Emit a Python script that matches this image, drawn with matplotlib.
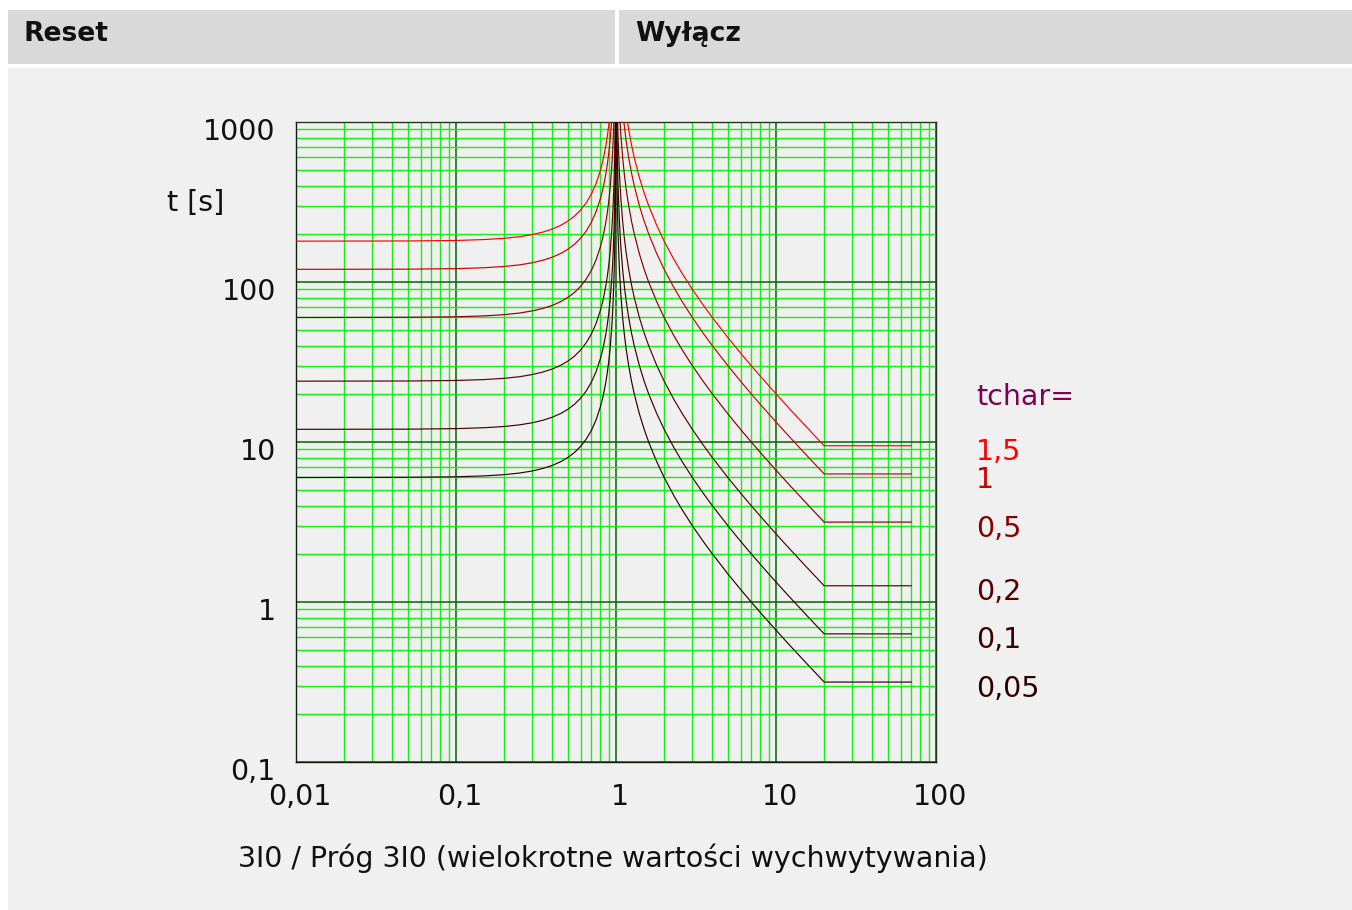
import matplotlib
matplotlib.use('Agg')
import matplotlib.pyplot as plt
from matplotlib.ticker import FixedLocator, LogLocator, NullFormatter, FixedFormatter
from matplotlib.transforms import ScaledTranslation, blended_transform_factory
from matplotlib.patches import Rectangle

# ---------------- data ----------------
tchar_labels = ['1,5', '1', '0,5', '0,2', '0,1', '0,05']
line_colors = ['#ff0000', '#c80000', '#860000', '#560000', '#3e0000', '#2c0000']

# Reset branch (multiples of pickup < 1)
m_reset = [0.01, 0.05, 0.1, 0.15, 0.2, 0.25, 0.3, 0.35, 0.4, 0.45, 0.5, 0.55,
           0.6, 0.65, 0.7, 0.75, 0.8, 0.83, 0.86, 0.88, 0.9, 0.92, 0.94, 0.95,
           0.96, 0.97, 0.975, 0.98, 0.985, 0.99, 0.993, 0.995, 0.997, 0.998, 0.999]
reset_1_5 = [180.0, 180.5, 181.8, 184.2, 187.5, 192.0, 197.8, 205.2, 214.3, 225.7,
             240.0, 258.1, 281.3, 311.7, 352.9, 411.4, 500.0, 578.6, 691.2, 797.9,
             947.4, 1171.9, 1546.4, 1846.2, 2295.9, 3045.7, 3645.6, 4545.5, 6045.3,
             9045.2, 12902, 18045, 30045, 45045, 90045]
reset_1 = [120.0, 120.3, 121.2, 122.8, 125.0, 128.0, 131.9, 136.8, 142.9, 150.5,
           160.0, 172.0, 187.5, 207.8, 235.3, 274.3, 333.3, 385.7, 460.8, 531.9,
           631.6, 781.3, 1030.9, 1230.8, 1530.6, 2030.5, 2430.4, 3030.3, 4030.2,
           6030.2, 8601.5, 12030, 20030, 30030, 60030]
reset_0_5 = [60.0, 60.2, 60.6, 61.4, 62.5, 64.0, 66.0, 68.4, 71.4, 75.3,
             80.0, 86.0, 93.8, 103.9, 117.6, 137.1, 166.7, 192.9, 230.4, 265.9,
             315.8, 390.6, 515.5, 615.4, 765.3, 1015.2, 1215.2, 1515.2, 2015.1,
             3015.1, 4300.8, 6015, 10015, 15015, 30015]
reset_0_2 = [24.0, 24.06, 24.24, 24.56, 25.0, 25.6, 26.4, 27.4, 28.6, 30.1,
             32.0, 34.4, 37.5, 41.6, 47.1, 54.9, 66.7, 77.1, 92.2, 106.4,
             126.3, 156.3, 206.2, 246.2, 306.1, 406.1, 486.1, 606.1, 806.0,
             1206, 1720, 2406, 4006, 6006, 12006]
reset_0_1 = [12.0, 12.03, 12.12, 12.28, 12.5, 12.8, 13.19, 13.68, 14.29, 15.05,
             16.0, 17.2, 18.75, 20.78, 23.53, 27.43, 33.33, 38.57, 46.08, 53.19,
             63.16, 78.13, 103.1, 123.1, 153.1, 203.1, 243.0, 303.0, 403.0,
             603.0, 860.2, 1203, 2003, 3003, 6003]
reset_0_05 = [6.0, 6.02, 6.06, 6.14, 6.25, 6.4, 6.59, 6.84, 7.14, 7.52,
              8.0, 8.6, 9.38, 10.39, 11.76, 13.71, 16.67, 19.29, 23.04, 26.6,
              31.58, 39.06, 51.55, 61.54, 76.53, 101.5, 121.5, 151.5, 201.5,
              301.5, 430.1, 601.5, 1001.5, 1501.5, 3001.5]

# Trip branch (multiples of pickup > 1)
m_trip = [1.002, 1.005, 1.01, 1.02, 1.03, 1.05, 1.07, 1.1, 1.13, 1.16, 1.2, 1.25,
          1.3, 1.4, 1.5, 1.6, 1.8, 2, 2.3, 2.6, 3, 3.5, 4, 5, 6, 7, 8.5, 10,
          12, 15, 20, 70]
trip_1_5 = [90000, 36000, 18000, 9000, 6000, 3600, 2571, 1800, 1385, 1125, 900, 720,
            600, 450, 360, 300, 225, 180, 138.5, 112.5, 90, 72, 60, 45, 36, 30, 24, 20,
            16.36, 12.86, 9.474, 9.474]
trip_1 = [60000, 24000, 12000, 6000, 4000, 2400, 1714, 1200, 923.1, 750, 600, 480,
          400, 300, 240, 200, 150, 120, 92.31, 75, 60, 48, 40, 30, 24, 20, 16, 13.33,
          10.91, 8.571, 6.316, 6.316]
trip_0_5 = [30000, 12000, 6000, 3000, 2000, 1200, 857.1, 600, 461.5, 375, 300, 240,
            200, 150, 120, 100, 75, 60, 46.15, 37.5, 30, 24, 20, 15, 12, 10, 8, 6.667,
            5.455, 4.286, 3.158, 3.158]
trip_0_2 = [12000, 4800, 2400, 1200, 800, 480, 342.9, 240, 184.6, 150, 120, 96,
            80, 60, 48, 40, 30, 24, 18.46, 15, 12, 9.6, 8, 6, 4.8, 4, 3.2, 2.667,
            2.182, 1.714, 1.263, 1.263]
trip_0_1 = [6000, 2400, 1200, 600, 400, 240, 171.4, 120, 92.31, 75, 60, 48,
            40, 30, 24, 20, 15, 12, 9.231, 7.5, 6, 4.8, 4, 3, 2.4, 2, 1.6, 1.333,
            1.091, 0.857, 0.632, 0.632]
trip_0_05 = [3000, 1200, 600, 300, 200, 120, 85.71, 60, 46.15, 37.5, 30, 24,
             20, 15, 12, 10, 7.5, 6, 4.615, 3.75, 3, 2.4, 2, 1.5, 1.2, 1, 0.8, 0.667,
             0.545, 0.429, 0.316, 0.316]

reset_series = [reset_1_5, reset_1, reset_0_5, reset_0_2, reset_0_1, reset_0_05]
trip_series = [trip_1_5, trip_1, trip_0_5, trip_0_2, trip_0_1, trip_0_05]

x_ticks = [0.01, 0.1, 1, 10, 100]
x_tick_labels = ['0,01', '0,1', '1', '10', '100']
y_ticks = [0.1, 1, 10, 100, 1000]
y_tick_labels = ['0,1', '1', '10', '100', '1000']

header_left = 'Reset'
header_right = 'Wyłącz'
x_label = '3I0 / Próg 3I0 (wielokrotne wartości wychwytywania)'
y_label = 't [s]'
legend_title = 'tchar='

FS = 20.5

# ---------------- figure ----------------
W, H = 1352, 910
fig = plt.figure(figsize=(W / 100, H / 100), dpi=100)
fig.patch.set_facecolor('white')


def frect(x0, y0, x1, y1, color):
    r = Rectangle((x0 / W, 1 - y1 / H), (x1 - x0) / W, (y1 - y0) / H,
                  transform=fig.transFigure, facecolor=color, edgecolor='none',
                  zorder=-10)
    fig.add_artist(r)


frect(8, 10, 615, 64, '#d9d9d9')
frect(619, 10, 1352, 64, '#d9d9d9')
frect(8, 68, 1352, 910, '#f0f0f0')

fig.text(24 / W, 1 - 34 / H, header_left, fontsize=19.2, fontweight='bold',
         ha='left', va='center', color='#111111')
fig.text(635 / W, 1 - 34 / H, header_right, fontsize=19.2, fontweight='bold',
         ha='left', va='center', color='#111111')

ax = fig.add_axes([296 / W, (H - 762) / H, 640 / W, 640 / H])
ax.set_facecolor('#f0f0f0')
ax.set_xscale('log')
ax.set_yscale('log')
ax.set_xlim(0.01, 100)
ax.set_ylim(0.1, 1000)

ax.xaxis.set_major_locator(FixedLocator(x_ticks))
ax.xaxis.set_major_formatter(FixedFormatter(x_tick_labels))
ax.yaxis.set_major_locator(FixedLocator(y_ticks))
ax.yaxis.set_major_formatter(FixedFormatter(y_tick_labels))
ax.xaxis.set_minor_locator(LogLocator(base=10, subs=range(2, 10), numticks=20))
ax.yaxis.set_minor_locator(LogLocator(base=10, subs=range(2, 10), numticks=20))
ax.xaxis.set_minor_formatter(NullFormatter())
ax.yaxis.set_minor_formatter(NullFormatter())

ax.grid(which='minor', color='#14f014', linewidth=1.0, zorder=0)
ax.grid(which='major', color='#006400', linewidth=1.1, zorder=0.5)
ax.set_axisbelow(True)

ax.tick_params(which='both', length=0)
ax.tick_params(axis='x', pad=15, labelsize=FS, colors='#111111')
ax.tick_params(axis='y', pad=14.5, labelsize=FS, colors='#111111')

for lab in ax.get_yticklabels():
    lab.set_transform(lab.get_transform() + ScaledTranslation(0, -7 / 100, fig.dpi_scale_trans))
for lab in ax.get_xticklabels():
    lab.set_transform(lab.get_transform() + ScaledTranslation(4 / 100, 0, fig.dpi_scale_trans))

for sp in ax.spines.values():
    sp.set_color('#1f3a1f')
    sp.set_linewidth(1.0)
ax.spines['bottom'].set_color('#0a200a')
ax.spines['left'].set_color('#0a200a')

for rs, ts, col in zip(reset_series, trip_series, line_colors):
    ax.plot(m_reset, rs, color=col, linewidth=0.85, zorder=3)
    ax.plot(m_trip, ts, color=col, linewidth=0.85, zorder=3)

# labels at the right
blend = blended_transform_factory(ax.transAxes, ax.transData)
off = ScaledTranslation(0, -6.5 / 100, fig.dpi_scale_trans)
for ts, lab, col in zip(trip_series, tchar_labels, line_colors):
    ax.text(1.0625, ts[-1], lab, transform=blend + off, ha='left', va='center',
            fontsize=FS, color=col, clip_on=False)
ax.text(1.0625, (762 - 397) / 640, legend_title, transform=ax.transAxes,
        ha='left', va='center', fontsize=FS, color='#800055', clip_on=False)

fig.text(196 / W, 1 - 203 / H, y_label, ha='center', va='center',
         fontsize=FS, color='#111111')
fig.text(613 / W, 1 - 858 / H, x_label, ha='center', va='center',
         fontsize=FS, color='#111111')

fig.savefig('out.png', dpi=100, facecolor=fig.get_facecolor())
